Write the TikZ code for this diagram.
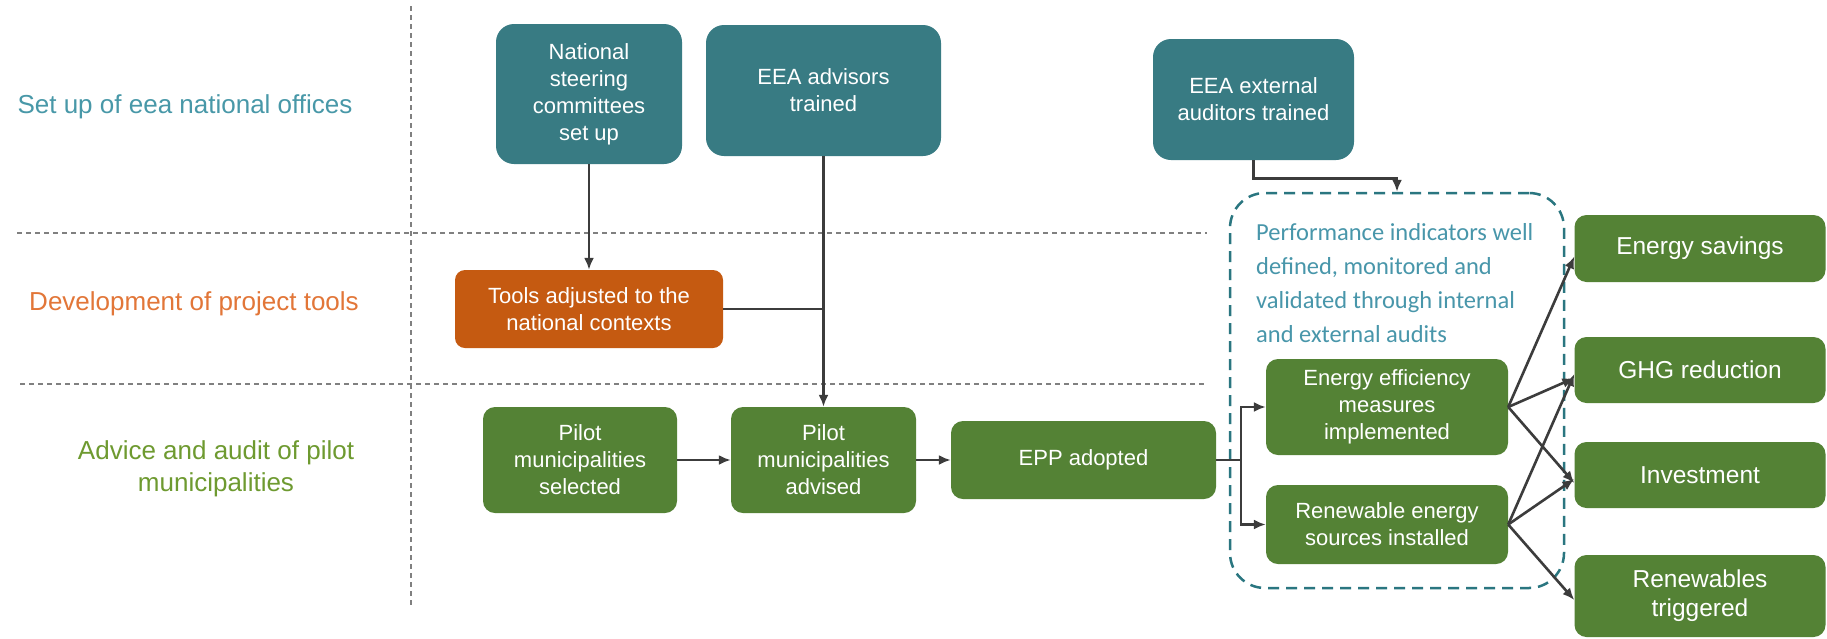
\documentclass[tikz,border=0pt]{standalone}
\usepackage{fontspec}
\setmainfont{Liberation Sans}
\newfontfamily\calibrifont{Carlito}
\usetikzlibrary{arrows.meta}

\definecolor{boxteal}{RGB}{56,123,131}
\definecolor{boxorange}{RGB}{197,90,17}
\definecolor{boxgreen}{RGB}{84,130,53}
\definecolor{laneteal}{RGB}{72,152,168}
\definecolor{laneorange}{RGB}{226,118,56}
\definecolor{lanegreen}{RGB}{110,154,48}
\definecolor{perfteal}{RGB}{72,150,170}
\definecolor{frameteal}{RGB}{42,118,128}
\definecolor{linegray}{RGB}{60,60,60}
\definecolor{sepgray}{RGB}{128,128,128}

\begin{document}
\begin{tikzpicture}[
        x=1pt, y=-1pt,
        box/.style={rounded corners=12pt, text=white, align=center, inner sep=0pt, font=\fontsize{22}{27}\selectfont},
        office/.style={box, fill=boxteal, rounded corners=18pt},
        tool/.style={box, fill=boxorange, rounded corners=10pt},
        pilot/.style={box, fill=boxgreen},
        result/.style={box, fill=boxgreen, font=\fontsize{24.5}{29}\selectfont},
        lane/.style={align=center, inner sep=0pt, font=\fontsize{26}{32}\selectfont},
        frame/.style={draw=frameteal, line width=2.5pt, dash pattern=on 11pt off 7pt, rounded corners=35pt},
        perftext/.style={align=left, inner sep=0pt, text=perfteal, font=\calibrifont\fontsize{24.5}{34}\selectfont},
        sep/.style={draw=sepgray, line width=1.4pt, dash pattern=on 5pt off 4pt},
        link/.style={draw=linegray, line width=2.6pt},
        arrow/.style={link, ->, >={Latex[length=12pt,width=10pt]}}
    ]
        \useasboundingbox[fill=white] (0,0) rectangle (1827,638);

        % Lanes
        \draw[sep] (17,233) -- (1207,233);
        \draw[sep] (20,384) -- (1207,384);
        \draw[sep] (411,6) -- (411,606);

        \node[lane, text=laneteal] (lsetup) at (185,107) {Set up of eea national offices};
        \node[lane, text=laneorange] (ltools) at (194,304) {Development of project tools};
        \node[lane, text=lanegreen] (lpilot) at (216,469) {Advice and audit of pilot\\municipalities};

        % National offices
        \node[office, minimum width=186pt, minimum height=140pt] (nsc) at (589,94) {National\\steering\\committees\\set up};
        \node[office, minimum width=235pt, minimum height=131pt] (advisors) at (823.5,90.5) {EEA advisors\\trained};
        \node[office, minimum width=201pt, minimum height=121pt] (auditors) at (1253.5,99.5) {EEA external\\auditors trained};

        % Project tools
        \node[tool, minimum width=268pt, minimum height=78pt] (tools) at (589,309) {Tools adjusted to the\\national contexts};

        % Performance frame
        \node[frame, minimum width=334pt, minimum height=395pt] (perf) at (1397,390.5) {};
        \node[perftext, anchor=west] (indicators) at (1256,283) {Performance indicators well\\defined, monitored and\\validated through internal\\and external audits};

        % Pilot municipalities
        \node[pilot, minimum width=194pt, minimum height=106pt] (selected) at (580,460) {Pilot\\municipalities\\selected};
        \node[pilot, minimum width=185pt, minimum height=106pt] (advised) at (823.5,460) {Pilot\\municipalities\\advised};
        \node[pilot, minimum width=265pt, minimum height=78pt] (epp) at (1083.5,460) {EPP adopted};
        \node[pilot, minimum width=242pt, minimum height=96pt] (efficiency) at (1387,407) {Energy efficiency\\measures\\implemented};
        \node[pilot, minimum width=242pt, minimum height=79pt] (sources) at (1387,524.5) {Renewable energy\\sources installed};

        % Results
        \foreach \name/\y/\h/\txt in {savings/248.5/67/Energy savings,
                                      ghg/370/66/GHG reduction,
                                      invest/475/66/Investment,
                                      renew/596/82/Renewables\\triggered}
            \node[result, minimum width=251pt, minimum height=\h] (\name) at (1700,\y) {\txt};

        % Connections offices -> tools and pilots
        \draw[arrow] (nsc) -- (tools);
        \draw[arrow] (advisors) -- (advised);
        \draw[link] (tools.east) -- (tools.east -| advisors.south);
        \draw[arrow] (auditors.south) -- ++(0,18) -| (perf.north);

        % Pilot chain
        \draw[arrow] (selected) -- (advised);
        \draw[arrow] (advised) -- (epp);
        \coordinate (split) at (1241,460);
        \draw[link] (epp.east) -- (split);
        \draw[arrow] (split) |- (efficiency.west);
        \draw[arrow] (split) |- (sources.west);

        % Measures -> results
        \foreach \r in {savings, ghg, invest}
            \draw[arrow] (efficiency.east) -- ([yshift=-8pt]\r.west);
        \foreach \r in {ghg, invest, renew}
            \draw[arrow] (sources.east) -- ([yshift=-4pt]\r.west);

    \end{tikzpicture}
\end{document}
